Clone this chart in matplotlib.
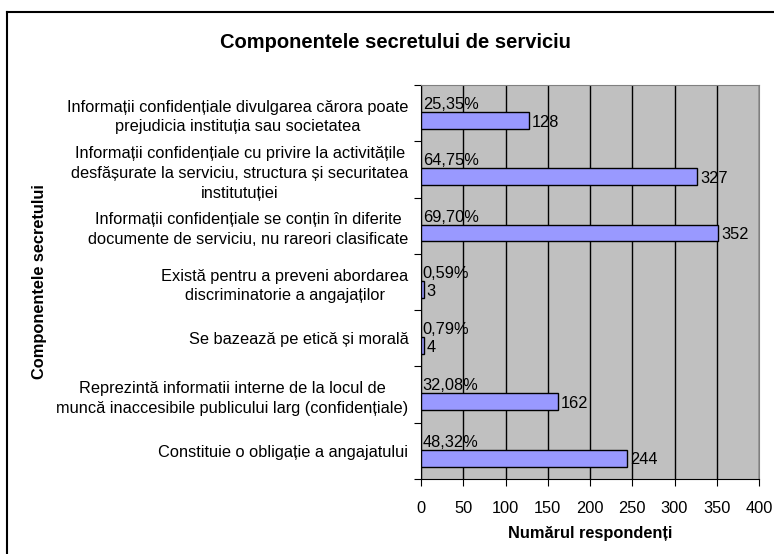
import matplotlib.pyplot as plt
from matplotlib.lines import Line2D

plt.rcParams['font.family'] = ['Liberation Sans', 'DejaVu Sans']

# Data (top to bottom as shown)
categories = [
    "Informații confidențiale divulgarea cărora poate\nprejudicia instituția sau societatea",
    "Informații confidențiale cu privire la activitățile\ndesfășurate la serviciu, structura și securitatea\ninstitutuției",
    "Informații confidențiale se conțin în diferite\ndocumente de serviciu, nu rareori clasificate",
    "Există pentru a preveni abordarea\ndiscriminatorie a angajaților",
    "Se bazează pe etică și morală",
    "Reprezintă informatii interne de la locul de\nmuncă inaccesibile publicului larg (confidențiale)",
    "Constituie o obligație a angajatului",
]
counts = [128, 327, 352, 3, 4, 162, 244]
percents = ["25,35%", "64,75%", "69,70%", "0,59%", "0,79%", "32,08%", "48,32%"]
xticks = [0, 50, 100, 150, 200, 250, 300, 350, 400]

W, H = 774, 554
fs = 11.8
fig = plt.figure(figsize=(W / 100, H / 100), dpi=100)
ax = fig.add_axes([421 / W, 1 - 479 / H, 338 / W, 394 / H])
ax.set_facecolor('#C0C0C0')

n = len(categories)
pos = list(range(n))
offset = 0.13
ax.barh([p + offset for p in pos], counts, height=0.3, color='#9999FF',
        edgecolor='black', linewidth=1, zorder=3)

for p, c, pc in zip(pos, counts, percents):
    ax.text(2, p + offset - 0.15, pc, fontsize=fs, va='bottom', ha='left', zorder=4)
    ax.text(c + 3, p + offset + 0.03, str(c), fontsize=fs, va='center', ha='left', zorder=4)

ax.set_xlim(0, 400)
ax.set_ylim(n - 0.5, -0.5)
ax.set_xticks(xticks)
ax.set_xticklabels([str(t) for t in xticks], fontsize=fs)
ax.set_yticks([p + 0.5 for p in pos[:-1]] + [-0.5, n - 0.5])
ax.set_yticklabels([])
ax.set_yticks(pos, minor=True)
ax.set_yticklabels(categories, minor=True, fontsize=fs, ha='right',
                   multialignment='center', linespacing=1.4)
ax.tick_params(axis='y', which='minor', length=0, pad=9)
ax.tick_params(axis='y', which='major', length=5, direction='out')
ax.tick_params(axis='x', length=5, direction='out', pad=11)
ax.xaxis.grid(True, color='black', linewidth=1, zorder=0)
ax.set_axisbelow(True)
for s in ['top', 'right']:
    ax.spines[s].set_color('#808080')
for s in ['left', 'bottom']:
    ax.spines[s].set_color('black')

ax.set_xlabel('Numărul respondenți', fontsize=fs, fontweight='bold', labelpad=7)
fig.text(40 / W, 1 - 282 / H, 'Componentele secretului', rotation=90, fontsize=fs,
         fontweight='bold', ha='center', va='center')
fig.text(395 / W, 1 - 42 / H, 'Componentele secretului de serviciu', fontsize=14.5,
         fontweight='bold', ha='center', va='center')

# outer chart border (top and left edges visible)
fig.add_artist(Line2D([7 / W, 7 / W], [0, 1 - 12 / H], transform=fig.transFigure,
                      color='black', linewidth=1.5))
fig.add_artist(Line2D([7 / W, 1], [1 - 12 / H, 1 - 12 / H], transform=fig.transFigure,
                      color='black', linewidth=1.5))

fig.savefig('out.png', dpi=100)
